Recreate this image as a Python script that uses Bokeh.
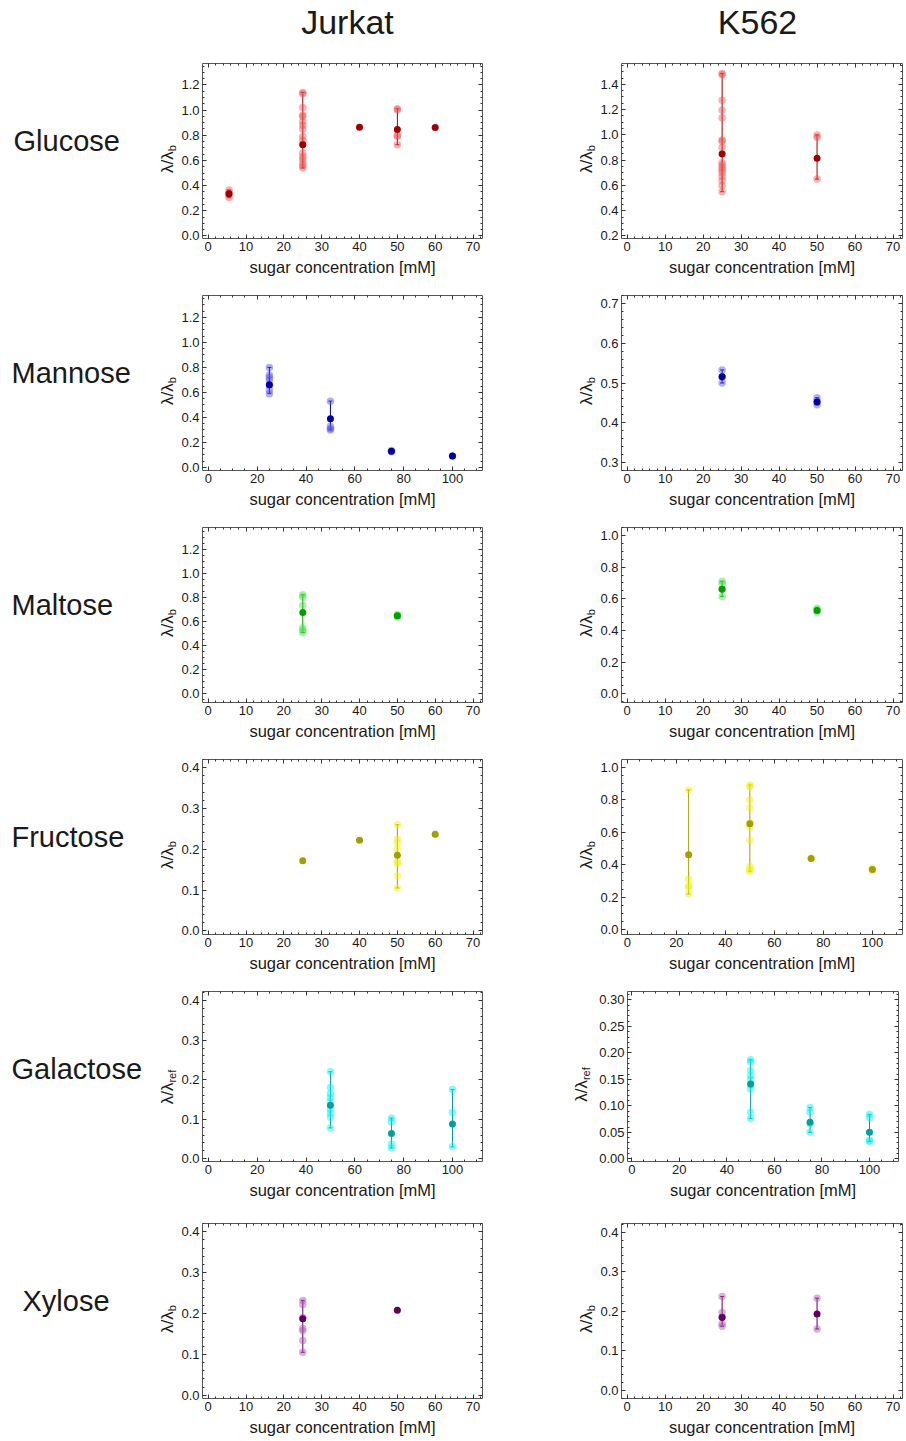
import numpy as np
from bokeh.plotting import figure
from bokeh.layouts import column, row
from bokeh.models import (ColumnDataSource, FixedTicker, PrintfTickFormatter, LinearAxis,
                          Whisker, TeeHead, Range1d, CustomJSTickFormatter, Label)
from bokeh.embed import file_html
from bokeh.resources import INLINE

# ---------------- data ----------------
cell_lines = ["Jurkat", "K562"]
sugars = ["Glucose", "Mannose", "Maltose", "Fructose", "Galactose", "Xylose"]

# Glucose
jg_conc = [5.5, 25, 40, 50, 60]
jg_mean = [0.335, 0.725, 0.864, 0.845, 0.862]
jg_pts = [[0.365, 0.345, 0.325, 0.305],
          [1.14, 1.13, 1.02, 0.96, 0.95, 0.91, 0.88, 0.85, 0.79, 0.76, 0.73, 0.66, 0.63, 0.61, 0.58, 0.56, 0.54],
          [], [1.01, 1.00, 0.80, 0.79, 0.725], []]
kg_conc = [25, 50]
kg_mean = [0.848, 0.815]
kg_pts = [[1.485, 1.475, 1.275, 1.195, 1.135, 0.96, 0.95, 0.90, 0.78, 0.76, 0.74, 0.72, 0.70, 0.67, 0.64, 0.60, 0.55],
          [1.00, 0.98, 0.65]]

# Mannose
jm_conc = [25, 50, 75, 100]
jm_mean = [0.661, 0.39, 0.13, 0.092]
jm_pts = [[0.80, 0.74, 0.72, 0.70, 0.66, 0.62, 0.59], [0.53, 0.33, 0.31, 0.30], [0.135, 0.125], [0.092]]
km_conc = [25, 50]
km_mean = [0.516, 0.452]
km_pts = [[0.533, 0.515, 0.50], [0.463, 0.455, 0.445]]

# Maltose
jma_conc = [25, 50]
jma_mean = [0.671, 0.644]
jma_pts = [[0.82, 0.80, 0.73, 0.545, 0.525, 0.505], [0.655, 0.645, 0.635]]
kma_conc = [25, 50]
kma_mean = [0.66, 0.526]
kma_pts = [[0.71, 0.695, 0.66, 0.615], [0.54, 0.53, 0.515]]

# Fructose
jf_conc = [25, 40, 50, 60]
jf_mean = [0.172, 0.222, 0.185, 0.237]
jf_pts = [[], [], [0.26, 0.225, 0.215, 0.20, 0.17, 0.165, 0.135, 0.105], []]
kf_conc = [25, 50, 75, 100]
kf_mean = [0.462, 0.652, 0.438, 0.37]
kf_pts = [[0.86, 0.31, 0.27, 0.26, 0.22], [0.89, 0.88, 0.80, 0.75, 0.66, 0.63, 0.55, 0.39, 0.37, 0.36],
          [0.44], [0.38, 0.365]]

# Galactose
jga_conc = [50, 75, 100]
jga_mean = [0.135, 0.064, 0.088]
jga_pts = [[0.22, 0.18, 0.165, 0.155, 0.145, 0.125, 0.115, 0.105, 0.078], [0.103, 0.093, 0.037, 0.027],
           [0.175, 0.117, 0.03]]
kga_conc = [50, 75, 100]
kga_mean = [0.1415, 0.069, 0.05]
kga_pts = [[0.187, 0.183, 0.167, 0.157, 0.15, 0.14, 0.132, 0.088, 0.076], [0.097, 0.088, 0.066, 0.05],
           [0.084, 0.077, 0.035, 0.033]]

# Xylose
jx_conc = [25, 50]
jx_mean = [0.187, 0.208]
jx_pts = [[0.232, 0.222, 0.19, 0.163, 0.158, 0.134, 0.105], []]
kx_conc = [25, 50]
kx_mean = [0.184, 0.193]
kx_pts = [[0.237, 0.197, 0.185, 0.168, 0.162], [0.233, 0.155]]

# tick labels
x_ticks_70 = [0, 10, 20, 30, 40, 50, 60, 70]
x_ticks_100 = [0, 20, 40, 60, 80, 100]
y_ticks_12 = [0.0, 0.2, 0.4, 0.6, 0.8, 1.0, 1.2]
y_ticks_14 = [0.2, 0.4, 0.6, 0.8, 1.0, 1.2, 1.4]
y_ticks_07 = [0.3, 0.4, 0.5, 0.6, 0.7]
y_ticks_10 = [0.0, 0.2, 0.4, 0.6, 0.8, 1.0]
y_ticks_04 = [0.0, 0.1, 0.2, 0.3, 0.4]
y_ticks_03 = [0.0, 0.05, 0.10, 0.15, 0.20, 0.25, 0.30]

dark_colors = ["#A00000", "#0000A0", "#00A000", "#A0A000", "#00A0A0", "#600060"]
light_colors = ["#F05050", "#5050F0", "#40E040", "#F0F000", "#00F0F0", "#B050B0"]

FONT = "Liberation Sans"
TEXT = "#1a1a1a"
FRAME = "#555555"
TICK = "#333333"


def minor(lo, hi, step):
    k0 = int(np.ceil(lo / step - 1e-9))
    k1 = int(np.floor(hi / step + 1e-9))
    return [round(k * step, 6) for k in range(k0, k1 + 1)]


def style_axis(ax, ticker, fmt, labels=True):
    ax.ticker = ticker
    ax.axis_line_color = None
    ax.major_tick_in = 4
    ax.major_tick_out = 0
    ax.minor_tick_in = 2
    ax.minor_tick_out = 0
    ax.major_tick_line_color = TICK
    ax.minor_tick_line_color = TICK
    if labels:
        ax.formatter = fmt
        ax.major_label_text_font = FONT
        ax.major_label_text_font_size = "13px"
        ax.major_label_text_color = TEXT
        ax.major_label_standoff = 3
    else:
        ax.formatter = CustomJSTickFormatter(code="return ''")
        ax.major_label_standoff = 0
        ax.major_label_text_font_size = "1px"


def blank(W, H):
    f = figure(frame_width=W, frame_height=H, x_range=Range1d(0, W), y_range=Range1d(0, H),
               x_axis_type=None, y_axis_type=None, output_backend="svg", toolbar_location=None,
               min_border=0, min_border_left=0, min_border_right=0, min_border_top=0,
               min_border_bottom=0, title_location=None)
    f.grid.visible = False
    f.outline_line_color = None
    return f


def put(f, x, y, text, size, align="center", angle=0.0):
    f.add_layout(Label(x=x, y=y, text=text, angle=angle, text_align=align, text_baseline="middle",
                       text_font=FONT, text_font_size=size, text_color=TEXT))


def ylabel(f, xc, yc, sub):
    # composite label  λ/λ with a subscript, reading bottom-to-top
    wm = 21.7
    ws = 6.1 if sub == "b" else 12.8
    T = wm + ws
    put(f, xc, yc - T / 2 + wm / 2, "λ/λ", "17px", angle=np.pi / 2)
    put(f, xc + 4, yc - T / 2 + wm + ws / 2, sub, "11px", angle=np.pi / 2)


def panel(conc, mean, pts, k, xr, yr, xticks, xstep, yticks, ystep, yfmt,
          W, H, bl, br, bt, bb):
    dark, light = dark_colors[k], light_colors[k]
    p = figure(width=W, height=H, x_range=Range1d(*xr), y_range=Range1d(*yr),
               output_backend="svg", toolbar_location=None, title_location=None,
               min_border_left=bl, min_border_right=br, min_border_top=bt, min_border_bottom=bb)
    p.grid.visible = False
    p.background_fill_color = "white"
    p.border_fill_color = "white"
    p.outline_line_color = FRAME
    p.outline_line_width = 1

    xt = FixedTicker(ticks=xticks, minor_ticks=minor(xr[0], xr[1], xstep))
    yt = FixedTicker(ticks=yticks, minor_ticks=minor(yr[0], yr[1], ystep))
    style_axis(p.xaxis[0], xt, PrintfTickFormatter(format="%d"))
    style_axis(p.yaxis[0], yt, PrintfTickFormatter(format=yfmt))
    p.xaxis.axis_label = "sugar concentration [mM]"
    p.xaxis.axis_label_text_font = FONT
    p.xaxis.axis_label_text_font_size = "16.5px"
    p.xaxis.axis_label_text_font_style = "normal"
    p.xaxis.axis_label_text_color = TEXT
    p.xaxis.axis_label_standoff = 4

    top = LinearAxis()
    style_axis(top, xt, None, labels=False)
    p.add_layout(top, "above")
    right = LinearAxis()
    style_axis(right, yt, None, labels=False)
    p.add_layout(right, "right")

    # error bars (range of individual measurements)
    base, lo, hi = [], [], []
    for c, ps in zip(conc, pts):
        if len(ps) >= 2:
            base.append(c)
            lo.append(min(ps))
            hi.append(max(ps))
    if base:
        src = ColumnDataSource(dict(base=base, lower=lo, upper=hi))
        w = Whisker(source=src, base="base", lower="lower", upper="upper", dimension="height",
                    line_color=dark, line_width=1,
                    upper_head=TeeHead(size=4, line_color=dark, line_width=1),
                    lower_head=TeeHead(size=4, line_color=dark, line_width=1))
        p.add_layout(w)

    xs = [c for c, ps in zip(conc, pts) for _ in ps]
    ys = [v for ps in pts for v in ps]
    p.scatter(xs, ys, size=7.5, fill_color=light, fill_alpha=0.45, line_color=None)
    p.scatter(conc, mean, size=7, fill_color=dark, line_color=None)
    return p


XR70 = (-1.5, 72.5)
XR100 = (-2.4, 112.3)

row_heights = [232, 232, 232, 232, 232, 231]
label_x = [13, 11, 11, 11, 11, 22]

data_j = [(jg_conc, jg_mean, jg_pts), (jm_conc, jm_mean, jm_pts), (jma_conc, jma_mean, jma_pts),
          (jf_conc, jf_mean, jf_pts), (jga_conc, jga_mean, jga_pts), (jx_conc, jx_mean, jx_pts)]
data_k = [(kg_conc, kg_mean, kg_pts), (km_conc, km_mean, km_pts), (kma_conc, kma_mean, kma_pts),
          (kf_conc, kf_mean, kf_pts), (kga_conc, kga_mean, kga_pts), (kx_conc, kx_mean, kx_pts)]

axes_j = [
    (XR70, (-0.02, 1.37), x_ticks_70, 2, y_ticks_12, 0.05, "%.1f"),
    (XR100, (-0.025, 1.375), x_ticks_100, 5, y_ticks_12, 0.05, "%.1f"),
    (XR70, (-0.078, 1.38), x_ticks_70, 2, y_ticks_12, 0.05, "%.1f"),
    (XR70, (-0.009, 0.42), x_ticks_70, 2, y_ticks_04, 0.02, "%.1f"),
    (XR100, (-0.007, 0.423), x_ticks_100, 5, y_ticks_04, 0.02, "%.1f"),
    (XR70, (-0.008, 0.42), x_ticks_70, 2, y_ticks_04, 0.02, "%.1f"),
]
axes_k = [
    (XR70, (0.18, 1.565), x_ticks_70, 2, y_ticks_14, 0.05, "%.1f"),
    (XR70, (0.279, 0.721), x_ticks_70, 2, y_ticks_07, 0.02, "%.1f"),
    (XR70, (-0.055, 1.05), x_ticks_70, 2, y_ticks_10, 0.05, "%.1f"),
    (XR100, (-0.029, 1.047), x_ticks_100, 5, y_ticks_10, 0.05, "%.1f"),
    ((-1.8, 112.2), (-0.005, 0.316), x_ticks_100, 5, y_ticks_03, 0.01, "%.2f"),
    (XR70, (-0.021, 0.422), x_ticks_70, 2, y_ticks_04, 0.02, "%.1f"),
]
y_subs = ["b", "b", "b", "b", "ref", "b"]

# header with column titles
header = blank(906, 50)
put(header, 347, 29, cell_lines[0], "34px")
put(header, 757, 29, cell_lines[1], "34px")

LW = 178   # row-label strip (incl. Jurkat y-axis label)
KW = 26    # K562 y-axis label strip
rows = [header]
for i, sugar in enumerate(sugars):
    H = row_heights[i]
    lab = blank(LW, H)
    put(lab, label_x[i], H - 77, sugar, "29px", align="left")
    fh = 175
    ylabel(lab, 167, H - 13 - fh / 2 + 5, y_subs[i])
    pj = panel(*data_j[i], i, *axes_j[i], W=570 - LW, H=H, bl=201 - LW, br=88, bt=13, bb=H - 13 - fh)

    klab = blank(KW, H)
    if sugar == "Galactose":
        kfh = 170
        ylabel(klab, 581 - 570, H - 13 - kfh / 2 + 5, y_subs[i])
        pk = panel(*data_k[i], i, *axes_k[i], W=906 - 570 - KW, H=H, bl=623 - 570 - KW, br=8,
                   bt=13, bb=H - 13 - kfh)
    else:
        ylabel(klab, 586 - 570, H - 13 - fh / 2 + 5, y_subs[i])
        pk = panel(*data_k[i], i, *axes_k[i], W=906 - 570 - KW, H=H, bl=621 - 570 - KW, br=4,
                   bt=13, bb=H - 13 - fh)
    rows.append(row(lab, pj, klab, pk))

layout = column(*rows)
open("out.html", "w").write(file_html(layout, INLINE))
